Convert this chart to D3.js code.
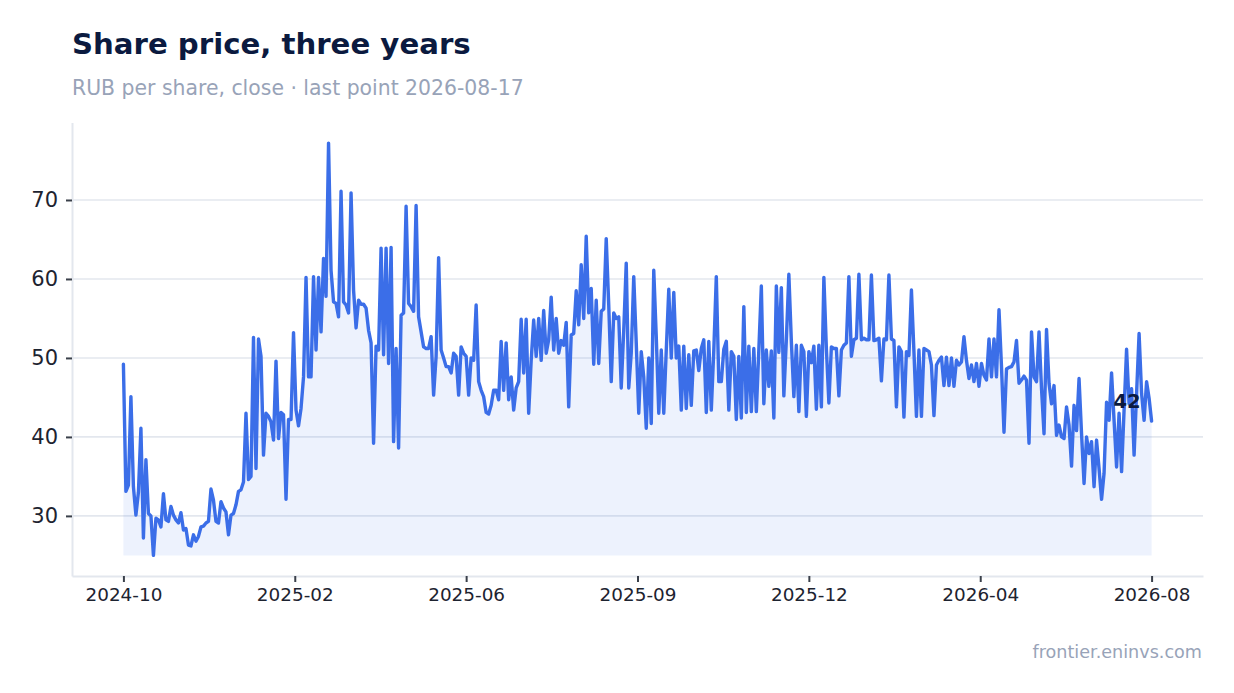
<!DOCTYPE html>
<html><head><meta charset="utf-8">
<script src="https://cdn.jsdelivr.net/npm/d3@7"></script>
<style>body{margin:0;background:#fff;} svg{display:block;font-family:"DejaVu Sans",sans-serif;}</style>
</head><body><svg id="c" width="1234" height="693"></svg>
<script>
// Daily close, RUB per share
const closes = [
49.2,33.1,33.9,45.1,33.7,30.1,33,41.1,27.2,37.1,30.3,30,25,29.7,29.5,28.6,32.8,29.5,29.3,31.2,
30.1,29.5,29.1,30.4,28.2,28.4,26.3,26.2,27.6,26.8,27.4,28.6,28.7,29.1,29.3,33.4,32,29.3,29.1,31.8,
31,30.5,27.6,30.1,30.3,31.4,33.1,33.3,34.3,43,34.6,
35,52.6,36,52.4,50.2,37.7,43,42.6,41.9,39.6,49.6,39.8,43.1,42.8,32.1,42.2,42.2,53.2,43.4,41.4,
43.6,47.6,60.2,47.6,47.6,60.3,51,60.2,53.3,62.6,57.8,77.2,61.1,57.1,56.9,55.2,71.1,57.1,56.7,55.7,
70.9,58.6,53.8,57.3,56.8,56.8,56.3,53.5,51.9,39.2,51.5,51,
63.9,50.4,63.9,49.3,64,39.4,51.2,38.6,55.4,55.7,69.2,56.9,56.5,55.9,69.3,55.2,53.3,51.4,51.2,51.2,
52.7,45.3,50.2,62.7,51,50,48.9,48.9,48.1,50.6,50.2,45.3,51.4,50.6,50.2,45.3,50,49.7,56.7,47,
45.9,45.1,43.1,42.9,44,45.9,45.9,44.7,52.1,45.9,51.9,44.7,47.6,
43.4,46.2,47,54.9,48.1,54.9,43,49.7,54.8,50.2,55,49.7,56,50.6,52.3,57.7,51,55,50.6,52.2,
51.6,54.5,43.8,52.9,53.1,58.5,54.2,61.8,55,65.4,55.7,58.8,49.2,57.3,49.3,55.9,56.2,65.1,56.7,47,
55.7,55,55.2,46.2,53.5,62,46.2,50.6,60.3,51.9,43,
50.8,47.6,41.1,50,41.7,61.1,52.7,43,51,43,51,58.7,50,58.3,50,51.5,43.4,51.5,43.6,50.4,
44,50.9,51,48.4,51.2,52.3,43.1,52.1,43.4,51,60.3,47,47,51.1,52.1,43.4,50.8,50.2,42.2,50.2,
42.4,56.5,43.1,51.5,43.2,51.2,43.2,51,59.1,
44.2,51,46.4,50.9,42.4,59.1,50.7,58.9,45.2,52.3,60.6,52.1,45.1,51.6,43.2,51.6,50.8,42.6,50.8,49.4,
51.5,43.5,51.6,43.8,60.2,51.2,44.3,51.4,51.2,51.2,45.2,51,51.6,51.9,60.3,50.2,52.3,52.5,60.6,52.3,
52.5,52.3,52.3,60.5,52.2,52.3,52.5,47.1,52.4,52.3,60.5,52.4,52.2,43.8,51.4,
50.8,42.5,50.8,50.3,58.6,50.8,42.6,51,42.6,51.2,51,50.8,49.1,42.7,49.1,49.7,50.1,46.5,50.1,46.5,
50,46.4,49.7,49.1,49.5,52.7,49.7,47.4,49.1,47,49.3,46.4,49.3,47.8,47.2,52.4,47.6,52.4,47.6,56.1,
48.9,40.6,48.6,48.8,48.9,49.5,52.2,46.8,47.2,47.7,47.2,39.2,
53.3,47.6,47,53.3,46.1,40.4,53.6,46.8,44.2,46.5,40.2,41.5,40,39.8,43.8,41.5,36.3,44,40.8,47.4,
40.4,34.1,40,37.9,39.4,33.7,39.6,36,32.1,35.4,44.4,42.1,48.1,42.1,36.2,43,35.6,43.4,51.1,44.2,
46.1,37.7,45.5,53.1,45.5,42.1,47,44.9,42
];
const tickLabels = ["2024-10","2025-02","2025-06","2025-09","2025-12","2026-04","2026-08"];
const yTicks = [30,40,50,60,70];
const titleText = "Share price, three years";
const subtitleText = "RUB per share, close \u00b7 last point 2026-08-17";
const sourceText = "frontier.eninvs.com";

const svg = d3.select("#c");
const n = closes.length;
const L = 72, R = 1203, T = 122.5, B = 576;
const x = d3.scaleLinear().domain([-(n - 1) * 0.05, (n - 1) * 1.05]).range([L, R]);
const ymin = d3.min(closes), ymax = d3.max(closes), pad = (ymax - ymin) * 0.05;
const y = d3.scaleLinear().domain([ymin - pad, ymax + pad]).range([B, T]);

// title / subtitle / source
svg.append("text").attr("x", 72).attr("y", 54).attr("font-size", 29.2).attr("font-weight", "bold")
  .attr("fill", "#0b1a3f").text(titleText);
svg.append("text").attr("x", 72).attr("y", 95).attr("font-size", 20.4)
  .attr("fill", "#98a3b8").text(subtitleText);
svg.append("text").attr("x", 1202).attr("y", 658).attr("font-size", 17.6).attr("text-anchor", "end")
  .attr("fill", "#98a3b8").text(sourceText);

// gridlines
svg.append("g").selectAll("line").data(yTicks).join("line")
  .attr("x1", L).attr("x2", R).attr("y1", d => y(d)).attr("y2", d => y(d))
  .attr("stroke", "#e3e7ee").attr("stroke-width", 1.6);

// area + line
const area = d3.area().x((d, i) => x(i)).y0(y(ymin)).y1(d => y(d));
svg.append("path").datum(closes).attr("d", area).attr("fill", "#3b6ee8").attr("fill-opacity", 0.09);
const line = d3.line().x((d, i) => x(i)).y(d => y(d));
svg.append("path").datum(closes).attr("d", line).attr("fill", "none")
  .attr("stroke", "#3b6ee8").attr("stroke-width", 3.4).attr("stroke-linejoin", "round").attr("stroke-linecap", "round");

// axes
const tickIdx = tickLabels.map((t, i) => i * (n - 1) / (tickLabels.length - 1));
const xAxis = d3.axisBottom(x).tickValues(tickIdx).tickFormat((d, i) => tickLabels[i])
  .tickSize(6).tickSizeOuter(0).tickPadding(6);
const gx = svg.append("g").attr("transform", `translate(0,${B})`).call(xAxis);
const yAxis = d3.axisLeft(y).tickValues(yTicks).tickSize(6).tickSizeOuter(0).tickPadding(8);
const gy = svg.append("g").attr("transform", `translate(${L},0)`).call(yAxis);
[gx, gy].forEach(g => {
  g.select(".domain").attr("stroke", "#e3e7ee").attr("stroke-width", 2);
  g.selectAll(".tick line").attr("stroke", "#3a404a").attr("stroke-width", 2);
  g.selectAll(".tick text").attr("fill", "#1d2330").attr("font-family", "DejaVu Sans, sans-serif");
});
gx.selectAll(".tick text").attr("font-size", 18.4);
gy.selectAll(".tick text").attr("font-size", 21);

// last value label
const last = closes[n - 1];
svg.append("text").attr("x", x(n - 1) - 11).attr("y", y(last) - 13).attr("text-anchor", "end")
  .attr("font-size", 19.5).attr("font-weight", "bold").attr("fill", "#0b1a3f").text(d3.format("d")(last));
</script></body></html>
